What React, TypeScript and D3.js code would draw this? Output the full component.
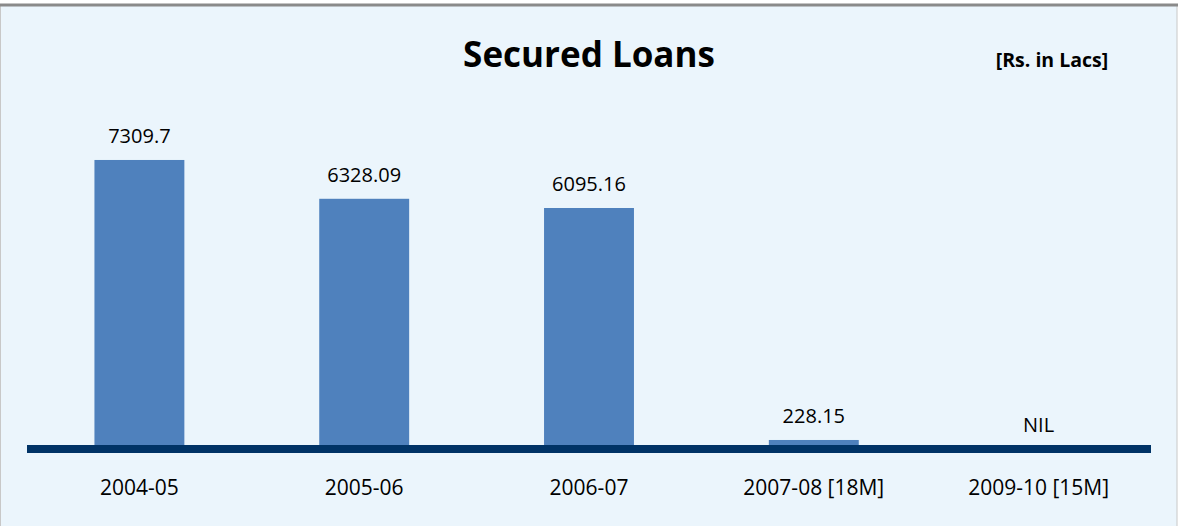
import React from "react";
import * as d3 from "d3";

const categories = ["2004-05", "2005-06", "2006-07", "2007-08 [18M]", "2009-10 [15M]"];
const values = [7309.7, 6328.09, 6095.16, 228.15, 0];
const valueLabels = ["7309.7", "6328.09", "6095.16", "228.15", "NIL"];

const W = 1180;
const H = 526;
const FONT = "'Open Sans', 'Liberation Sans', sans-serif";

export default function App() {
  const x = d3
    .scaleBand<string>()
    .domain(categories)
    .range([27, 1151])
    .paddingInner(0.6)
    .paddingOuter(0.3);
  const y = d3.scaleLinear().domain([0, 8000]).range([449, 449 - 8000 * 0.03954]);

  return (
    <svg
      width={W}
      height={H}
      style={{ position: "absolute", left: 0, top: 0, display: "block" }}
      fontFamily={FONT}
    >
      <rect x={0} y={0} width={W} height={H} fill="#ffffff" />
      <rect x={0.5} y={5} width={1176.5} height={H} fill="#EBF5FC" stroke="#c8c8c8" strokeWidth={1} />
      <line x1={0} x2={1178} y1={5} y2={5} stroke="#8a8a8a" strokeWidth={3} />

      <text x={589} y={67} textAnchor="middle" fontSize={35} fontWeight="bold" fill="#000">
        Secured Loans
      </text>
      <text x={1052} y={67} textAnchor="middle" fontSize={19.5} fontWeight="bold" fill="#000">
        [Rs. in Lacs]
      </text>

      {categories.map((c, i) => (
        <rect
          key={c}
          x={x(c)}
          y={y(values[i])}
          width={x.bandwidth()}
          height={y(0) - y(values[i])}
          fill="#4F81BD"
        />
      ))}

      <line x1={27} x2={1151} y1={449} y2={449} stroke="#003366" strokeWidth={8} />

      {categories.map((c, i) => (
        <text
          key={"v" + c}
          x={(x(c) as number) + x.bandwidth() / 2}
          y={y(values[i]) - 17}
          textAnchor="middle"
          fontSize={20}
          fill="#000"
        >
          {valueLabels[i]}
        </text>
      ))}

      {categories.map((c) => (
        <text
          key={"c" + c}
          x={(x(c) as number) + x.bandwidth() / 2}
          y={495}
          textAnchor="middle"
          fontSize={21}
          fill="#000"
        >
          {c}
        </text>
      ))}
    </svg>
  );
}
